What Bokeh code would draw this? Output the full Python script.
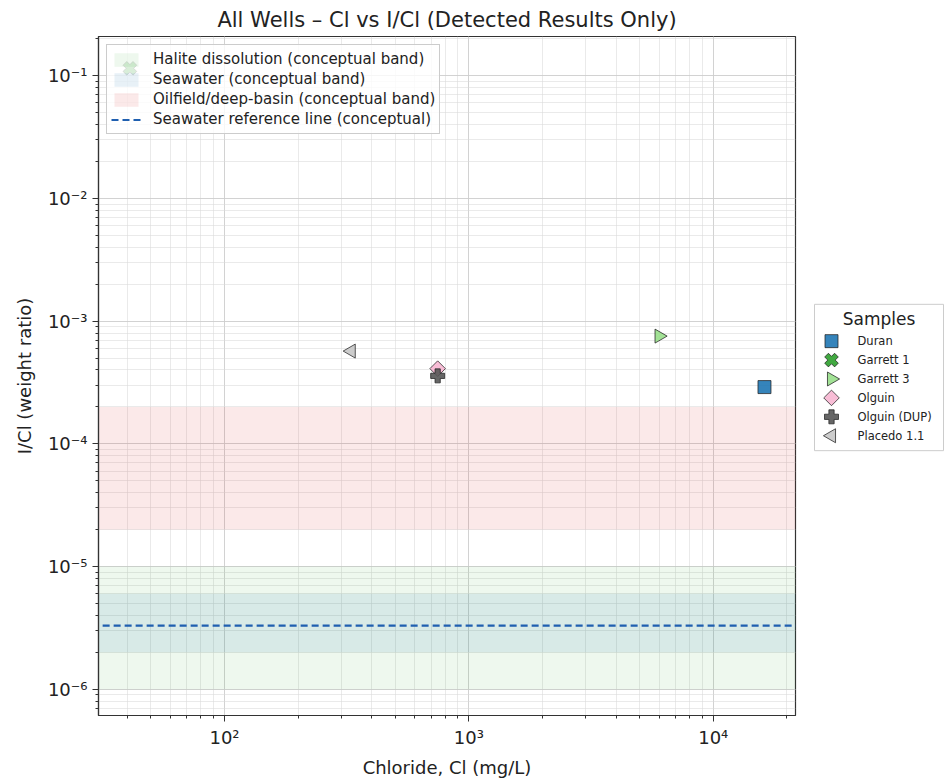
import numpy as np
from bokeh.plotting import figure
from bokeh.layouts import row
from bokeh.models import (Range1d, Legend, LegendItem, CustomJSTickFormatter,
                          ColumnDataSource)
from bokeh.core.properties import value
from bokeh.embed import file_html
from bokeh.resources import INLINE

# ---- data ----
names = ["Duran", "Garrett 1", "Garrett 3", "Olguin", "Olguin (DUP)", "Placedo 1.1"]
chloride = [16200, 41, 6000, 745, 745, 330]
i_cl = [2.9e-4, 0.115, 7.55e-4, 4.1e-4, 3.58e-4, 5.7e-4]
markers = ["square", "plus", "triangle", "square", "plus", "triangle"]
angles = [0.0, np.pi / 4, -np.pi / 2, np.pi / 4, 0.0, np.pi / 2]
fills = ["#1f77b4", "#2ca02c", "#98df8a", "#f7b6d2", "#555555", "#c7c7c7"]
sizes = [13, 14, 14, 11, 14, 14]

band_names = ["Halite dissolution (conceptual band)", "Seawater (conceptual band)",
              "Oilfield/deep-basin (conceptual band)"]
band_lo = [1e-6, 2e-6, 2e-5]
band_hi = [1e-5, 6e-6, 2e-4]
band_colors = ["#2ca02c", "#1f77b4", "#d62728"]
band_alphas = [0.08, 0.1, 0.1]
seawater_ratio = 3.3e-6

x_range = (30.5, 21700)
y_range = (6.1e-7, 0.209)

FONT = "DejaVu Sans"
H = 780
LEFT, TOP, BOTTOM, RIGHT = 98, 36, 62, 2
FRAME_W = 697
FRAME_H = H - TOP - BOTTOM
W1 = LEFT + FRAME_W + RIGHT
W2 = 945 - W1

p = figure(x_axis_type="log", y_axis_type="log",
           x_range=Range1d(*x_range), y_range=Range1d(*y_range),
           width=W1, height=H,
           min_border_left=LEFT, min_border_top=TOP, min_border_bottom=BOTTOM,
           min_border_right=RIGHT,
           output_backend="svg", toolbar_location=None,
           title="All Wells \u2013 Cl vs I/Cl (Detected Results Only)")
p.title.text_font = FONT
p.title.text_font_size = "21px"
p.title.text_font_style = "normal"
p.title.align = "center"
p.title.text_color = "#222222"
p.title.standoff = 9

p.outline_line_color = "#333333"
p.outline_line_alpha = 1.0
p.outline_line_width = 1.2

fmt = CustomJSTickFormatter(code="""
const e = Math.round(Math.log10(tick));
const sup = {'-':'\u207b','0':'\u2070','1':'\u00b9','2':'\u00b2','3':'\u00b3','4':'\u2074','5':'\u2075','6':'\u2076','7':'\u2077','8':'\u2078','9':'\u2079'};
return '10' + String(e).split('').map(c => sup[c]).join('');
""")

for ax in (p.xaxis[0], p.yaxis[0]):
    ax.formatter = fmt
    ax.major_label_text_font = FONT
    ax.major_label_text_font_size = "18px"
    ax.major_label_text_color = "#222222"
    ax.axis_label_text_font = FONT
    ax.axis_label_text_font_size = "18px"
    ax.axis_label_text_font_style = "normal"
    ax.axis_label_text_color = "#222222"
    ax.axis_line_color = "#333333"
    ax.axis_line_width = 1.2
    ax.major_tick_line_color = "#333333"
    ax.minor_tick_line_color = "#333333"
    ax.major_tick_in = 0
    ax.major_tick_out = 6
    ax.minor_tick_in = 0
    ax.minor_tick_out = 3
    ax.major_label_standoff = 5
p.xaxis.axis_label = "Chloride, Cl (mg/L)"
p.yaxis.axis_label = "I/Cl (weight ratio)"
p.xaxis.axis_label_standoff = 6
p.yaxis.axis_label_standoff = 10

for g in (p.xgrid[0], p.ygrid[0]):
    g.grid_line_color = "#c8c8c8"
    g.grid_line_alpha = 0.6
    g.minor_grid_line_color = "#d8d8d8"
    g.minor_grid_line_alpha = 0.55

# bands
band_renderers = []
for lo, hi, c, a in zip(band_lo, band_hi, band_colors, band_alphas):
    r = p.quad(left=[1e-3], right=[1e8], bottom=[lo], top=[hi],
               fill_color=c, fill_alpha=a, line_alpha=0)
    band_renderers.append(r)

sw = p.line(x=[1e-3, 1e8], y=[seawater_ratio, seawater_ratio],
            line_color="#1f5fb0", line_width=2.2, line_dash="7 4")

# points
marker_style = dict(fill_alpha=0.9, line_color="#222222", line_width=1, line_alpha=0.75)
for n, x, y, m, a, f, s in zip(names, chloride, i_cl, markers, angles, fills, sizes):
    src = ColumnDataSource(dict(x=[x], y=[y]))
    p.scatter("x", "y", source=src, marker=m, angle=a, size=s, fill_color=f, **marker_style)

leg1 = Legend(items=[LegendItem(label=n, renderers=[r]) for n, r in zip(band_names, band_renderers)]
              + [LegendItem(label="Seawater reference line (conceptual)", renderers=[sw])],
              location="top_left")
leg1.label_text_font = FONT
leg1.label_text_font_size = "15px"
leg1.label_text_color = "#222222"
leg1.background_fill_alpha = 0.8
leg1.border_line_color = "#cccccc"
leg1.border_line_alpha = 1.0
leg1.margin = 8
leg1.padding = 4
leg1.spacing = 0
leg1.label_height = 20
leg1.glyph_height = 17
leg1.glyph_width = 30
leg1.label_standoff = 12
p.add_layout(leg1)

# ---- side legend panel ("Samples"); its frame is aligned with the main frame ----
p2 = figure(width=W2, height=H, x_range=Range1d(0, W2), y_range=Range1d(0, FRAME_H),
            min_border_left=0, min_border_right=0, min_border_top=TOP,
            min_border_bottom=BOTTOM, x_axis_location=None, y_axis_location=None,
            output_backend="svg", toolbar_location=None)
p2.grid.visible = False
p2.outline_line_color = None


def vy(screen_y):
    # page pixel row -> panel coordinate
    return TOP + FRAME_H - screen_y


box_left, box_right, box_top, box_bottom = 17, W2 - 2, 305, 452
row_h = 19
first_row = 342
p2.quad(left=[box_left], right=[box_right], top=[vy(box_top)], bottom=[vy(box_bottom)],
        fill_color="white", line_color="#cccccc", line_width=1)
p2.text(x=[(box_left + box_right) / 2], y=[vy(320)], text=["Samples"],
        text_font=value(FONT), text_font_size="17px", text_color="#222222",
        text_align="center", text_baseline="middle")
ys = [vy(first_row + i * row_h) for i in range(len(names))]
for i, (m, a, f, s) in enumerate(zip(markers, angles, fills, sizes)):
    p2.scatter(x=[box_left + 17], y=[ys[i]], marker=m, angle=a, size=s, fill_color=f,
               **marker_style)
p2.text(x=[box_left + 43] * len(names), y=ys, text=names,
        text_font=value(FONT), text_font_size="11.5px", text_color="#222222",
        text_align="left", text_baseline="middle")

layout = row(p, p2, spacing=0)
open("out.html", "w").write(file_html(layout, INLINE))
